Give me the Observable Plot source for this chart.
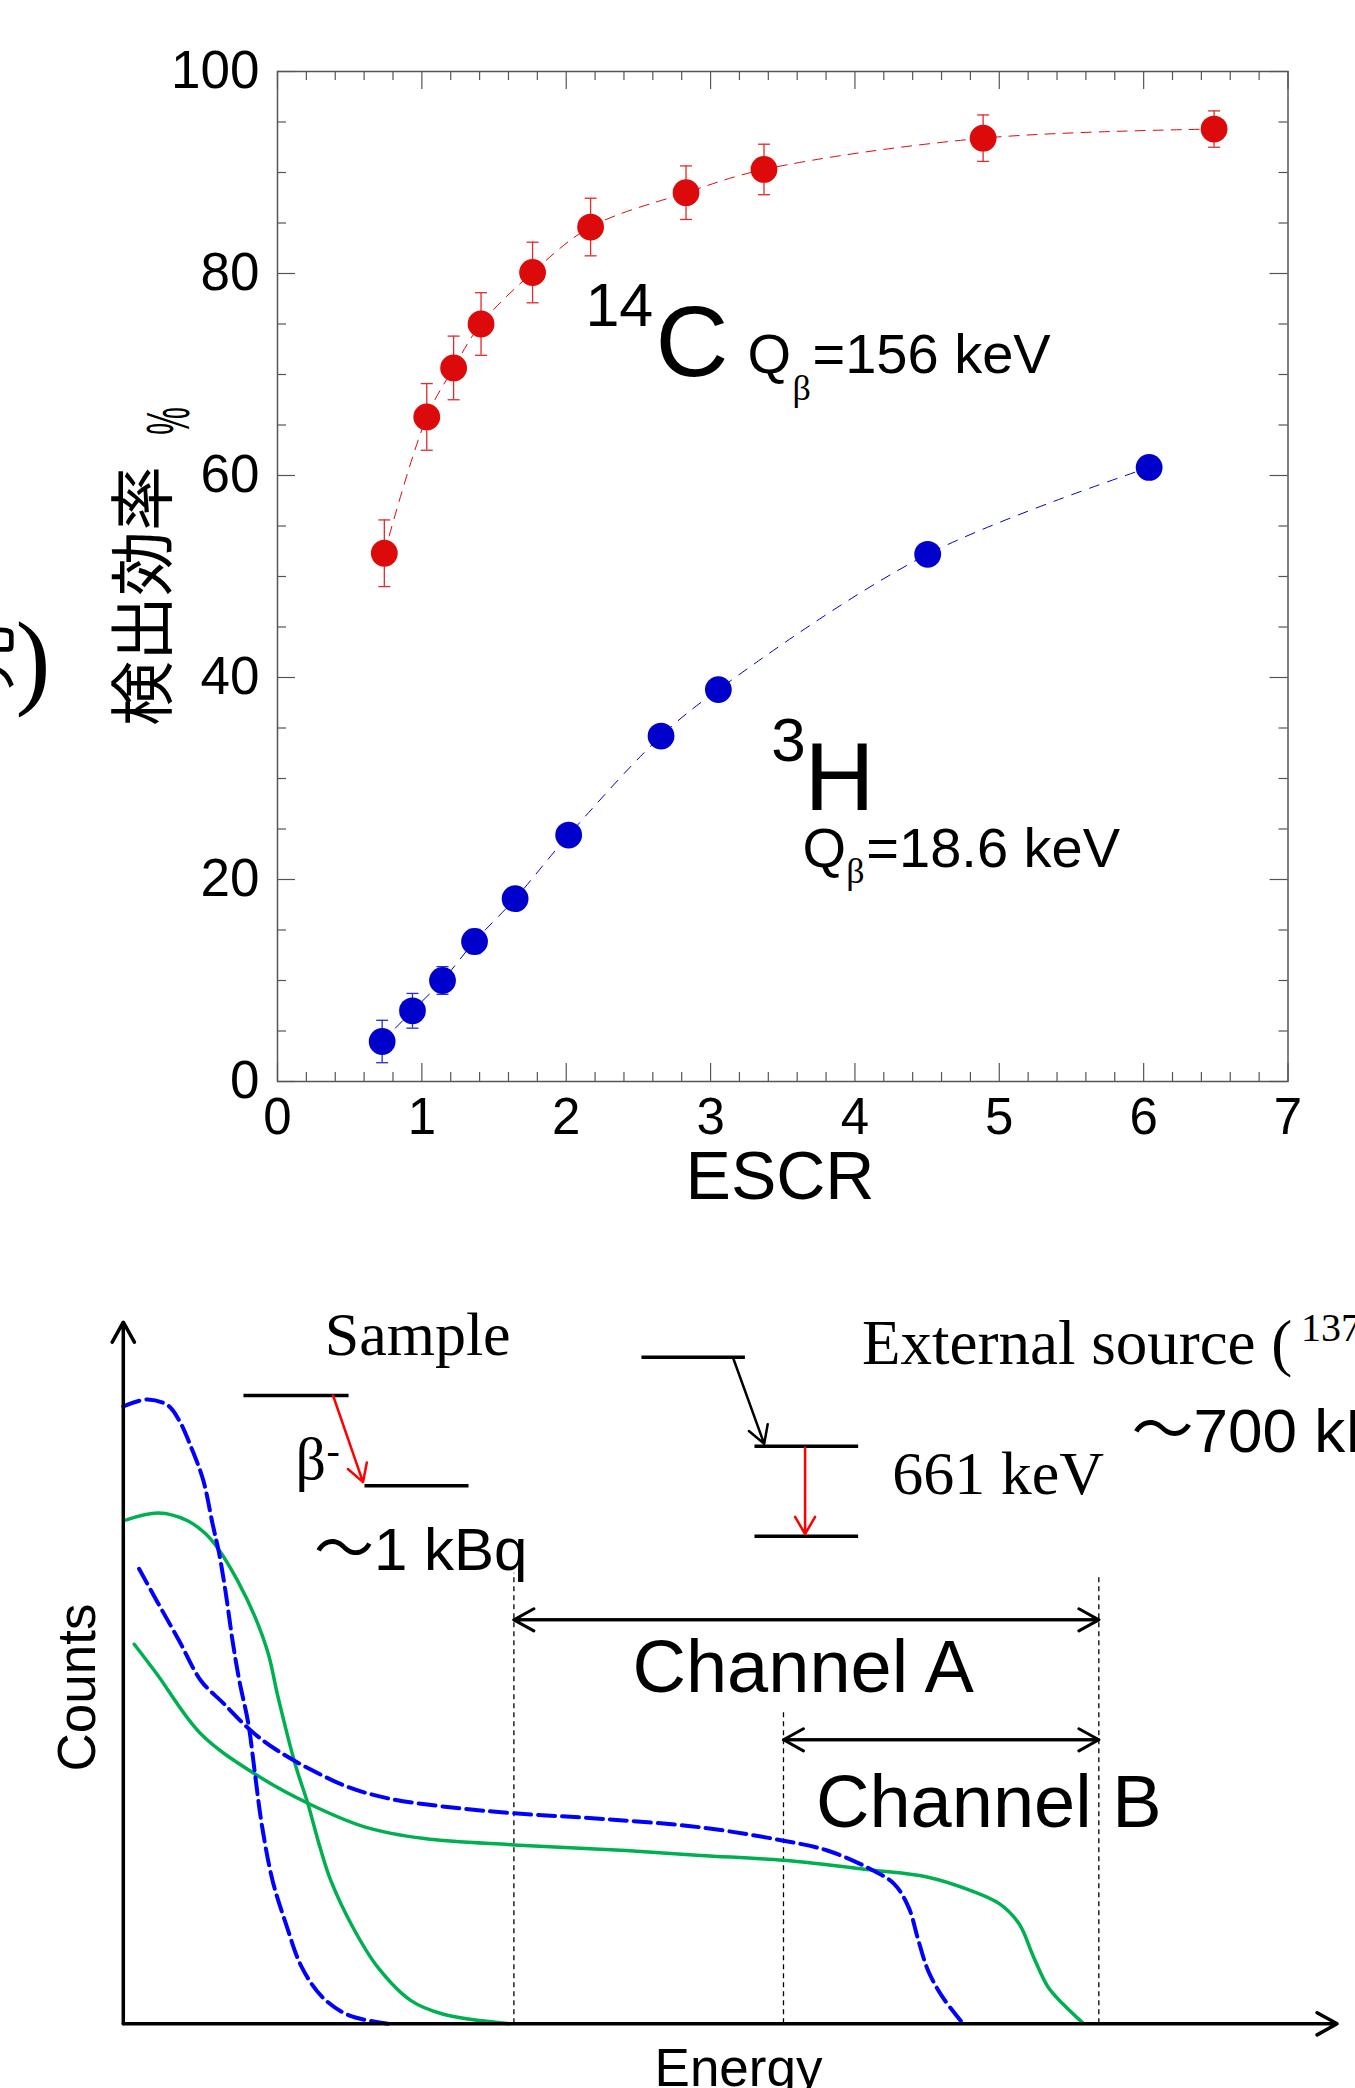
<!DOCTYPE html>
<html><head><meta charset="utf-8">
<script src="https://cdn.jsdelivr.net/npm/d3@7"></script>
<script src="https://cdn.jsdelivr.net/npm/@observablehq/plot@0.6"></script>
<style>
html,body{margin:0;padding:0;background:#fff;overflow:hidden;}
#wrap{position:relative;width:1355px;height:2088px;background:#fff;}
#wrap svg{display:block;max-width:none;}
</style></head><body><div id="wrap"></div>
<script>
// ===== Top chart: detection efficiency vs ESCR =====
const escrC14 = [0.74, 1.034, 1.22, 1.41, 1.767, 2.169, 2.83, 3.37, 4.888, 6.488];
const effC14  = [52.3, 65.8, 70.65, 75.0, 80.1, 84.6, 88.0, 90.3, 93.4, 94.3];
const errC14  = [3.3, 3.3, 3.15, 3.1, 3.0, 2.85, 2.65, 2.5, 2.3, 1.8];
const escrH3  = [0.725, 0.935, 1.143, 1.365, 1.646, 2.017, 2.657, 3.054, 4.504, 6.038];
const effH3   = [3.96, 7.0, 10.0, 13.86, 18.1, 24.4, 34.2, 38.8, 52.2, 60.8];
const errH3   = [2.1, 1.72, 1.37, 1.2, 1.0, 1.0, 1.0, 1.0, 1.0, 1.0];
const xTickLabels = [0, 1, 2, 3, 4, 5, 6, 7];
const yTickLabels = [0, 20, 40, 60, 80, 100];
const xMinorTicks = d3.range(0, 7.001, 0.2).map(v => +v.toFixed(1)).filter(v => !Number.isInteger(v));
const yMinorTicks = d3.range(0, 100.1, 5).filter(v => v % 20 !== 0);

// ===== Bottom chart: schematic spectra (arbitrary units 0-100) =====
const sampleBlueE   = [0, 2.0, 3.7, 4.6, 5.7, 6.6, 7.35, 7.9, 8.45, 9.0, 9.56, 10.3, 10.85, 11.4, 12.3, 13.4, 14.7, 16.4, 18.6, 21.9];
const sampleBlueC   = [88.0, 89.0, 88.1, 86.0, 81.7, 77.4, 71.3, 67.0, 61.3, 54.6, 48.9, 42.8, 35.6, 28.5, 20.4, 14.25, 8.07, 3.8, 1.2, 0];
const sampleGreenE  = [0.2, 2.9, 5.3, 6.8, 7.9, 9.4, 10.85, 11.95, 12.75, 14.15, 15.2, 16.2, 17.1, 18.9, 20.96, 23.7, 26.3, 31.8];
const sampleGreenC  = [71.8, 72.8, 71.7, 69.8, 67.5, 63.2, 58.0, 52.7, 46.55, 37.05, 31.4, 25.2, 20.4, 13.8, 8.07, 3.3, 1.4, 0];
const externalBlueE = [1.3, 2.75, 4.6, 6.4, 8.3, 10.5, 12.7, 15.6, 18.6, 21.9, 26.7, 32.2, 39.5, 47.55, 54.4, 58.0, 61.5, 63.5, 64.7, 65.5, 66.3, 67.5, 69.1];
const externalBlueC = [64.85, 60.3, 54.6, 48.9, 45.6, 41.8, 38.95, 36.1, 33.7, 32.1, 30.9, 30.0, 29.2, 28.0, 26.1, 24.7, 22.1, 19.95, 16.6, 11.9, 7.6, 3.8, 0.2];
const externalGreenE = [0.9, 2.75, 6.4, 10.85, 15.25, 20.0, 24.8, 32.2, 41.4, 47.55, 54.4, 61.5, 66.3, 69.5, 72.2, 73.8, 75.0, 76.2, 77.4, 79.0];
const externalGreenC = [54.1, 49.9, 41.3, 35.6, 31.4, 28.0, 26.4, 25.5, 24.7, 24.0, 23.3, 21.95, 20.9, 19.2, 17.1, 14.25, 9.5, 5.2, 2.85, 0.2];
const channelEdges = [{u: 32.18, top: 64.2}, {u: 54.39, top: 44.75}, {u: 80.37, top: 63.9}];
const channelRanges = [{name: "Channel A", from: 32.18, to: 80.37, level: 57.58},
                       {name: "Channel B", from: 54.39, to: 80.37, level: 40.48}];

// ---------- styles ----------
const SANS = "'Liberation Sans', Arial, Helvetica, sans-serif";
const SERIF = "'Liberation Serif', 'Times New Roman', serif";
const CJK = "'Noto Sans CJK JP', 'Noto Sans CJK SC', sans-serif";
const RED = "#dc0a0a", RED_E = "#e02b2b", BLUE = "#0000cd", BLUE_E = "#2a2ad8";
const AX = "#555";

const c14 = escrC14.map((x, i) => ({x, y: effC14[i], e: errC14[i]}));
const h3 = escrH3.map((x, i) => ({x, y: effH3[i], e: errH3[i]}));
const capSymbol = {draw(ctx, size) { const r = Math.sqrt(size / Math.PI); ctx.moveTo(-r, 0); ctx.lineTo(r, 0); }};

const W = 1355, TOPH = 1240;
const MT = 71, MB = TOPH - 1081, ML = 277, MR = W - 1287.5;
const IH = TOPH - MT - MB, IW = W - ML - MR;

// annotations in data units
const topSans = [
  {t: "14", x: 2.133, y: 74.85, s: 61},
  {t: "C", x: 2.618, y: 69.9, s: 101},
  {t: "Q", x: 3.255, y: 70.1, s: 56},
  {t: "=156 keV", x: 3.706, y: 70.1, s: 56},
  {t: "3", x: 3.421, y: 31.78, s: 62},
  {t: "H", x: 3.65, y: 26.93, s: 97},
  {t: "Q", x: 3.636, y: 21.19, s: 56},
  {t: "=18.6 keV", x: 4.079, y: 21.19, s: 56}
];
const topSerif = [
  {t: "β", x: 3.567, y: 67.45, s: 36},
  {t: "β", x: 3.94, y: 19.62, s: 36}
];

function series(data, color, ecolor, dash) {
  return [
    Plot.line(data, {x: "x", y: "y", curve: "catmull-rom", stroke: color, strokeWidth: 1, strokeDasharray: dash}),
    Plot.ruleX(data, {x: "x", y1: d => d.y - d.e, y2: d => d.y + d.e, stroke: ecolor, strokeWidth: 1.3}),
    Plot.dot(data, {x: "x", y: d => d.y + d.e, symbol: capSymbol, r: 6, fill: "none", stroke: ecolor, strokeWidth: 1.3}),
    Plot.dot(data, {x: "x", y: d => d.y - d.e, symbol: capSymbol, r: 6, fill: "none", stroke: ecolor, strokeWidth: 1.3}),
    Plot.dot(data, {x: "x", y: "y", r: 13.4, fill: color, stroke: "none"})
  ];
}

const topChart = Plot.plot({
  width: W, height: TOPH,
  marginTop: MT, marginBottom: MB, marginLeft: ML, marginRight: MR,
  x: {domain: [0, 7]}, y: {domain: [0, 100]},
  style: {fontFamily: SANS, background: "white", color: "black"},
  marks: [
    Plot.frame({stroke: AX, strokeWidth: 1.5}),
    Plot.tickX(xMinorTicks, {x: d => d, insetTop: IH - 9, stroke: AX, strokeWidth: 1.2}),
    Plot.tickX(xMinorTicks, {x: d => d, insetBottom: IH - 9, stroke: AX, strokeWidth: 1.2}),
    Plot.tickX(xTickLabels, {x: d => d, insetTop: IH - 18, stroke: AX, strokeWidth: 1.2}),
    Plot.tickX(xTickLabels, {x: d => d, insetBottom: IH - 18, stroke: AX, strokeWidth: 1.2}),
    Plot.tickY(yMinorTicks, {y: d => d, insetRight: IW - 9, stroke: AX, strokeWidth: 1.2}),
    Plot.tickY(yMinorTicks, {y: d => d, insetLeft: IW - 9, stroke: AX, strokeWidth: 1.2}),
    Plot.tickY(yTickLabels, {y: d => d, insetRight: IW - 18, stroke: AX, strokeWidth: 1.2}),
    Plot.tickY(yTickLabels, {y: d => d, insetLeft: IW - 18, stroke: AX, strokeWidth: 1.2}),
    Plot.axisX({ticks: xTickLabels, tickFormat: d => String(d), tickSize: 0, tickPadding: 16, fontSize: 51, label: null}),
    Plot.axisY({ticks: yTickLabels, tickFormat: d => String(d), tickSize: 0, tickPadding: 18, fontSize: 53, label: null}),
    ...series(c14, RED, RED_E, "10,8"),
    ...series(h3, BLUE, BLUE_E, "10,9"),
    Plot.text(topSans, {x: "x", y: "y", text: "t", fontSize: d => d.s, textAnchor: "start", lineAnchor: "bottom", fill: "black"}),
    Plot.text(topSerif, {x: "x", y: "y", text: "t", fontSize: d => d.s, textAnchor: "start", lineAnchor: "bottom", fill: "black", fontFamily: SERIF}),
    Plot.text(["ESCR"], {frameAnchor: "bottom", text: d => d, dx: -2.75, dy: 69, lineAnchor: "top", fontSize: 68, fill: "black"}),
    Plot.text(["検出効率"], {frameAnchor: "left", text: d => d, rotate: -90, textAnchor: "middle", dx: -132, dy: 19.5, fontSize: 65, fontFamily: CJK, fill: "black"}),
    Plot.text(["%"], {frameAnchor: "top-left", text: d => d, textAnchor: "middle", fontSize: 62, fill: "black"}),
    Plot.text([")"], {frameAnchor: "top-left", text: d => d, dx: -262, dy: 623, fontSize: 105, fontFamily: SERIF, textAnchor: "start", lineAnchor: "bottom", fill: "black"}),
    Plot.text(["光"], {frameAnchor: "top-left", text: d => d, rotate: -90, textAnchor: "middle", dx: -270, dy: 586, fontSize: 65, fontFamily: CJK, lineAnchor: "bottom", fill: "black"})
  ]
});
// the "%" of the axis title is rotated and horizontally condensed in the original
d3.select(topChart).selectAll("text").filter(function () { return this.textContent === "%"; })
  .attr("transform", "translate(144.5,420.5) rotate(-90) scale(0.5,1)");

// ---------- bottom chart ----------
const BOTH = 848;
const mk = (E, C, id) => E.map((u, i) => ({u, v: C[i], id}));
const bottomSans = [
  {t: "～1 kBq", x: 15.71, y: 64.61, s: 60},
  {t: "～700 kBq", x: 83.06, y: 81.43, s: 62},
  {t: "Channel A", x: 41.95, y: 47.26, s: 74},
  {t: "Channel B", x: 57.07, y: 28.02, s: 74}
];
const bottomSerifCentered = [
  {t: "Sample", x: 24.25, y: 95.26, s: 62}
];
const bottomSerif = [
  {t: "β", x: 14.19, y: 77.7, s: 60},
  {t: "-", x: 16.74, y: 79.86, s: 40},
  {t: "External source (", x: 60.86, y: 94.0, s: 63},
  {t: "137", x: 97.03, y: 97.25, s: 40},
  {t: "Cs)", x: 102.0, y: 94.0, s: 63},
  {t: "661 keV", x: 63.35, y: 75.54, s: 62}
];
const levelLines = [
  {x1: 9.9, x2: 18.56, y: 89.55}, {x1: 19.87, x2: 28.44, y: 76.7},
  {x1: 42.69, x2: 51.21, y: 95.0}, {x1: 52.0, x2: 60.54, y: 82.33}, {x1: 52.0, x2: 60.54, y: 69.5}
];
const decayArrows = [
  {x1: 17.28, y1: 89.55, x2: 19.75, y2: 77.2, c: "#ff0000"},
  {x1: 50.22, y1: 95.0, x2: 52.80, y2: 82.66, c: "black"},
  {x1: 56.17, y1: 82.1, x2: 56.17, y2: 69.8, c: "#ff0000"}
];
const axisArrows = [{x1: 0, y1: 0, x2: 0, y2: 100}, {x1: 0, y1: 0, x2: 100, y2: 0}];

const bottomChart = Plot.plot({
  width: W, height: BOTH,
  marginTop: 81.7, marginBottom: 64.7, marginLeft: 122.8, marginRight: 18.4,
  x: {domain: [0, 100], axis: null}, y: {domain: [0, 100], axis: null},
  style: {fontFamily: SANS, background: "white", color: "black"},
  marks: [
    Plot.ruleX(channelEdges, {x: "u", y1: 0, y2: "top", stroke: "black", strokeWidth: 1.3, strokeDasharray: "5,4"}),
    Plot.line(mk(sampleGreenE, sampleGreenC, "sg"), {x: "u", y: "v", curve: "catmull-rom", stroke: "#00b050", strokeWidth: 3.5}),
    Plot.line(mk(externalGreenE, externalGreenC, "eg"), {x: "u", y: "v", curve: "catmull-rom", stroke: "#00b050", strokeWidth: 3.5}),
    Plot.line(mk(sampleBlueE, sampleBlueC, "sb"), {x: "u", y: "v", curve: "catmull-rom", stroke: "#0000ff", strokeWidth: 4, strokeDasharray: "17,7"}),
    Plot.line(mk(externalBlueE, externalBlueC, "eb"), {x: "u", y: "v", curve: "catmull-rom", stroke: "#0000ff", strokeWidth: 4, strokeDasharray: "17,7"}),
    Plot.arrow(channelRanges, {x1: "from", x2: "to", y1: "level", y2: "level", stroke: "black", strokeWidth: 3, headLength: 11.4, headAngle: 58}),
    Plot.arrow(channelRanges, {x1: "to", x2: "from", y1: "level", y2: "level", stroke: "black", strokeWidth: 3, headLength: 11.4, headAngle: 58}),
    Plot.link(levelLines, {x1: "x1", x2: "x2", y1: "y", y2: "y", stroke: "black", strokeWidth: 3.5}),
    Plot.arrow(decayArrows, {x1: "x1", y1: "y1", x2: "x2", y2: "y2", stroke: d => d.c, strokeWidth: 2.5, headLength: 12, headAngle: 60}),
    Plot.text(bottomSans, {x: "x", y: "y", text: "t", fontSize: d => d.s, textAnchor: "start", lineAnchor: "bottom", fill: "black", fontFamily: "'Liberation Sans', 'Noto Sans CJK JP', sans-serif"}),
    Plot.text(bottomSerifCentered, {x: "x", y: "y", text: "t", fontSize: d => d.s, textAnchor: "middle", lineAnchor: "bottom", fill: "black", fontFamily: SERIF}),
    Plot.text(bottomSerif, {x: "x", y: "y", text: "t", fontSize: d => d.s, textAnchor: "start", lineAnchor: "bottom", fill: "black", fontFamily: SERIF}),
    Plot.text(["Counts"], {frameAnchor: "left", text: d => d, rotate: -90, textAnchor: "middle", dx: -44.8, dy: 14.5, fontSize: 53, fill: "black"}),
    Plot.text(["Energy"], {frameAnchor: "bottom", text: d => d, dx: 8.3, dy: 61.7, lineAnchor: "bottom", fontSize: 53, fill: "black"}),
    Plot.arrow(axisArrows, {x1: "x1", y1: "y1", x2: "x2", y2: "y2", stroke: "black", strokeWidth: 3.5, headLength: 9.8, headAngle: 58})
  ]
});

const wrap = document.getElementById("wrap");
wrap.append(topChart, bottomChart);
</script>
</body></html>
